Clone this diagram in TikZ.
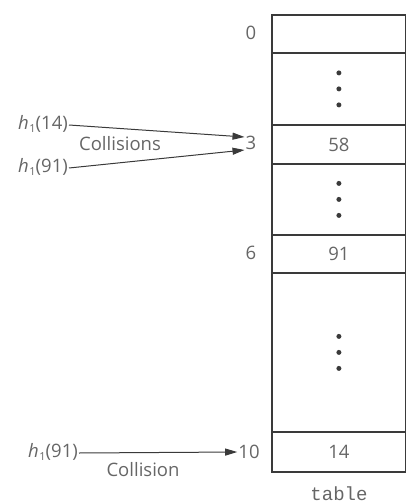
\documentclass[tikz,border=0pt]{standalone}
\usepackage{fontspec}
\setmainfont{Open Sans}
\setmonofont{Liberation Mono}
\usetikzlibrary{arrows.meta,calc}
\definecolor{txt}{HTML}{666666}
\definecolor{ln}{HTML}{3A3A3A}
\tikzset{
  cell/.style={draw=ln,line width=1.8pt,rectangle,inner sep=0pt,minimum width=134pt,anchor=north west,text=txt,font=\fontsize{18.5}{22}\selectfont},
  idx/.style={text=txt,font=\fontsize{18.5}{22}\selectfont,inner sep=1pt},
  lbl/.style={text=txt,font=\fontsize{18.5}{22}\selectfont,inner sep=1pt},
  arr/.style={draw=ln,line width=1pt,-{Triangle[length=12pt,width=7pt]}},
  vdots/.style={fill=ln,circle,inner sep=0pt,minimum size=5pt}
}
\newcommand{\hone}[1]{\textit{h}\kern0.5pt\raisebox{-3pt}{\fontsize{11}{13}\selectfont 1}(#1)}
\begin{document}
\begin{tikzpicture}[x=1pt,y=-1pt]
\useasboundingbox (0,0) rectangle (406,503);
% table cells
\node[cell,minimum height=38pt] (c0) at (271,14) {};
\node[cell,minimum height=72pt] (c1) at (271,52) {};
\node[cell,minimum height=39pt] (c3) at (271,124) {58};
\node[cell,minimum height=71pt] (c4) at (271,163) {};
\node[cell,minimum height=38pt] (c6) at (271,234) {91};
\node[cell,minimum height=159pt] (c7) at (271,272) {};
\node[cell,minimum height=40pt] (c10) at (271,431) {14};
% dots
\foreach \c in {c1,c4,c7}{
  \node[vdots] at ($(\c.center)+(0,-16)$) {};
  \node[vdots] at (\c.center) {};
  \node[vdots] at ($(\c.center)+(0,16)$) {};
}
% indices
\node[idx] (i0) at (251,33) {0};
\node[idx] (i3) at (251,143) {3};
\node[idx] (i6) at (251,253) {6};
\node[idx] (i10) at (249,452) {10};
\node[font=\ttfamily\fontsize{19}{22}\selectfont,text=txt] (tbl) at (339,494) {table};
% hash labels
\node[lbl,anchor=east] (ha) at (69,124) {\hone{14}};
\node[lbl,anchor=east] (hb) at (69,167) {\hone{91}};
\node[lbl,anchor=east] (hc) at (79,452) {\hone{91}};
\node[lbl] (col) at (120,144) {Collisions};
\node[lbl] (col2) at (143,470) {Collision};
\coordinate (t3a) at ($(i3.west)+(0,-6)$);
\coordinate (t3b) at ($(i3.west)+(0,7)$);
\draw[arr] ($(ha.east)+(0,1)$) -- (t3a);
\draw[arr] ($(hb.east)+(0,1)$) -- (t3b);
\draw[arr] ($(hc.east)+(0,1)$) -- (i10.west);
\end{tikzpicture}
\end{document}
